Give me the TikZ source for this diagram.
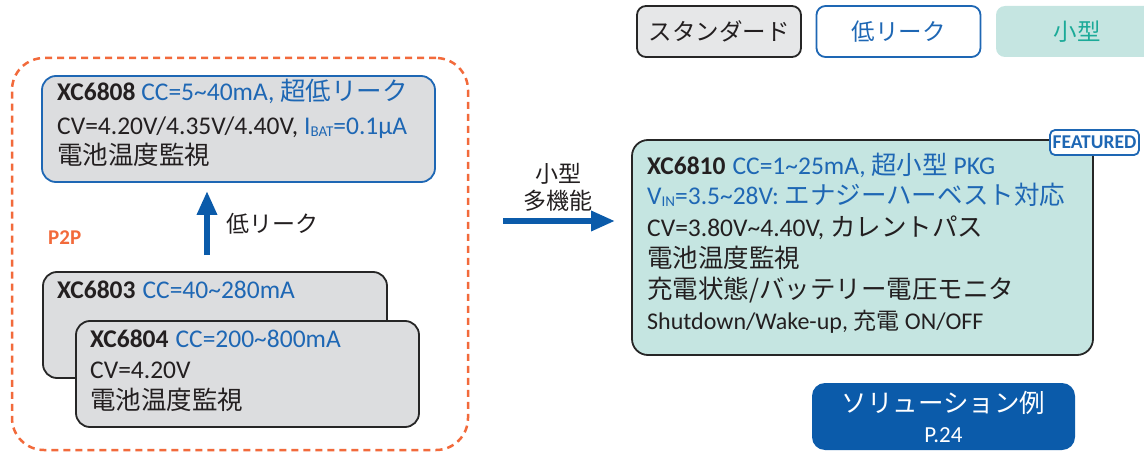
\documentclass[tikz,border=0pt]{standalone}
\usepackage{fontspec}
\setmainfont{Carlito}
\newfontfamily\jp{Noto Sans CJK JP}
\usetikzlibrary{arrows.meta}
\definecolor{tblue}{HTML}{1E67B4}
\definecolor{bblue}{HTML}{0B5BAA}
\definecolor{boxgray}{HTML}{DCDDDF}
\definecolor{legray}{HTML}{E6E7E8}
\definecolor{tealfill}{HTML}{C5E5E1}
\definecolor{tealtext}{HTML}{1BAA98}
\definecolor{orng}{HTML}{F26A3B}
\definecolor{darkline}{HTML}{262626}
\definecolor{txt}{HTML}{231F20}
\newcommand\tld{\textasciitilde}
\newcommand\subtx[1]{\raisebox{-2.5pt}{\fontsize{15}{15}\selectfont #1}}
\newcommand\jpb{\jp\fontsize{25.5}{29}\selectfont}
\tikzset{
  gbox/.style={draw=darkline, fill=boxgray, line width=1.8pt, rounded corners=14pt, inner sep=0pt},
  bbox/.style={draw=tblue, fill=boxgray, line width=1.8pt, rounded corners=14pt, inner sep=0pt},
  tbox/.style={draw=darkline, fill=tealfill, line width=1.8pt, rounded corners=16pt, inner sep=0pt},
  legbox/.style={line width=1.8pt, rounded corners=9pt, minimum width=164pt, minimum height=51pt, inner sep=0pt, font=\jp\fontsize{23.5}{26}\selectfont},
  t/.style={inner sep=0pt, anchor=mid west, font=\fontsize{25.5}{29}\selectfont, text=txt},
  lbl/.style={inner sep=0pt, font=\jp\fontsize{23}{26}\selectfont, text=txt},
  bigarrow/.style={draw=bblue, line width=6.5pt, -{Triangle[length=24pt,width=19pt]}},
}
\begin{document}
\begin{tikzpicture}[x=1pt,y=-1pt]
\useasboundingbox (0,0) rectangle (1144,452);

% legend
\node[legbox, draw=darkline, fill=legray, text=txt] (lstd) at (719,31.5) {スタンダード};
\node[legbox, draw=tblue, fill=white, text=tblue] (llow) at (898.5,31.5) {低リーク};
\node[legbox, draw=none, fill=tealfill, text=tealtext, minimum width=162pt] (lsmall) at (1077,31.5) {小型};

% P2P group
\node[draw=orng, line width=2.5pt, dash pattern=on 7pt off 5pt, rounded corners=32pt, minimum width=456pt, minimum height=392pt, inner sep=0pt] (grp) at (240,254) {};
\node[inner sep=0pt, anchor=mid west, text=orng, font=\bfseries\fontsize{21}{24}\selectfont] (p2p) at (48,242) {P2P};

% XC6808
\node[bbox, minimum width=393pt, minimum height=106pt] (b6808) at (238.5,129) {};
\node[t] (a1) at (57,98) {\textbf{XC6808} \textcolor{tblue}{CC=5\tld40mA, {\jpb 超低リーク}}};
\node[t] (a2) at (57,132) {CV=4.20V/4.35V/4.40V, \textcolor{tblue}{I\subtx{BAT}=0.1µA}};
\node[t, font=\jpb] (a3) at (57,162) {電池温度監視};

% XC6803 / XC6804
\node[gbox, minimum width=344pt, minimum height=106pt] (b6803) at (215,325) {};
\node[t] (c1) at (57,296) {\textbf{XC6803}\hspace{7pt}\textcolor{tblue}{CC=40\tld280mA}};
\node[gbox, minimum width=343pt, minimum height=106pt] (b6804) at (247.5,374) {};
\node[t] (d1) at (90,345) {\textbf{XC6804}\hspace{7pt}\textcolor{tblue}{CC=200\tld800mA}};
\node[t] (d2) at (90,376) {CV=4.20V};
\node[t, font=\jpb] (d3) at (90,407) {電池温度監視};

% up arrow
\coordinate (ubot) at (207,255);
\draw[bigarrow] (ubot) -- ([yshift=-8pt]b6808.south -| ubot);
\node[lbl, anchor=west] (lowlbl) at (226,224) {低リーク};

% XC6810
\node[tbox, minimum width=461pt, minimum height=215pt] (b6810) at (862.5,247.5) {};
\node[t] (e1) at (647,172) {\textbf{XC6810}\hspace{7pt}\textcolor{tblue}{CC=1\tld25mA, {\jpb 超小型} PKG}};
\node[t] (e2) at (647,202) {\textcolor{tblue}{V\subtx{IN}=3.5\tld28V: {\jpb エナジーハーベスト対応}}};
\node[t] (e3) at (647,234) {CV=3.80V\tld4.40V, {\jpb カレントパス}};
\node[t, font=\jpb] (e4) at (647,265) {電池温度監視};
\node[t, font=\jpb] (e5) at (647,296) {充電状態/バッテリー電圧モニタ};
\node[t, font=\fontsize{24}{28}\selectfont] (e6) at (647,327) {Shutdown/Wake-up, {\jp\fontsize{23}{28}\selectfont 充電} ON/OFF};
\node[draw=tblue, fill=white, line width=1.8pt, rounded corners=5pt, minimum width=89pt, minimum height=25pt, inner sep=0pt, text=tblue, font=\bfseries\fontsize{19.5}{21}\selectfont] (feat) at (1094.5,142.5) {FEATURED};

% right arrow
\coordinate (rstart) at (503,221);
\draw[bigarrow] (rstart) -- ([xshift=-16pt]rstart -| b6810.west);
\node[lbl] (m1) at (558,174) {小型};
\node[lbl] (m2) at (558,201) {多機能};

% solution button
\node[fill=bblue, rounded corners=13pt, minimum width=263pt, minimum height=67pt, inner sep=0pt] (sol) at (943.5,416.5) {};
\node[inner sep=0pt, text=white, font=\jp\fontsize{25.5}{29}\selectfont] (sol1) at (943.5,403) {ソリューション例};
\node[inner sep=0pt, text=white, font=\fontsize{23}{26}\selectfont] (sol2) at (943.5,435) {P.24};
\end{tikzpicture}
\end{document}
